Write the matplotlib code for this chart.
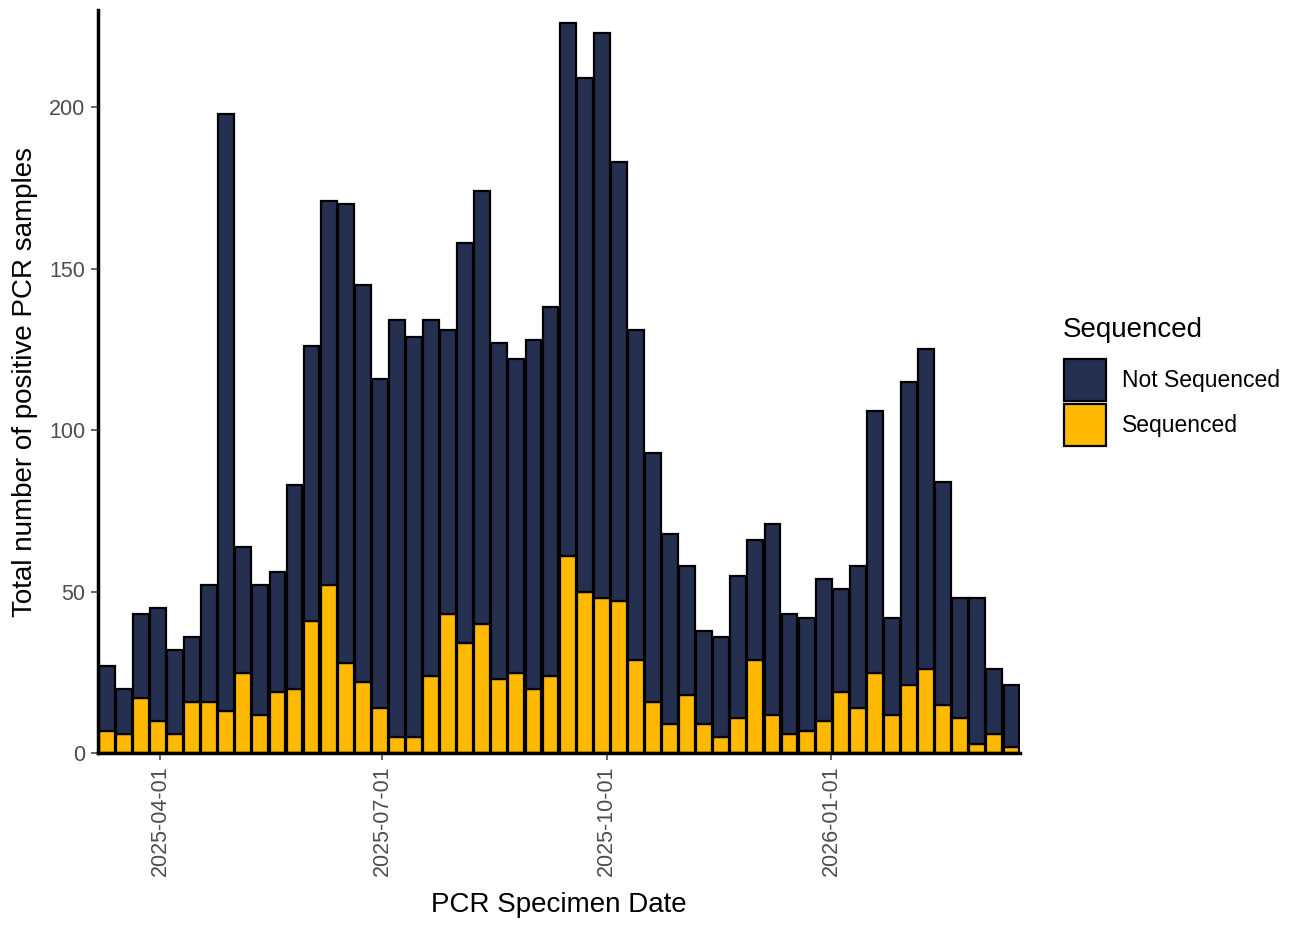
import matplotlib
matplotlib.use("Agg")
import matplotlib.pyplot as plt
import matplotlib.dates as mdates
import numpy as np
import pandas as pd
from matplotlib.patches import Rectangle

plt.rcParams['font.family'] = ['Liberation Sans', 'DejaVu Sans']

# weekly counts, week of 2025-03-10 onwards
weeks = pd.date_range("2025-03-10", periods=54, freq="7D")
total = [27, 20, 43, 45, 32, 36, 52, 198, 64, 52, 56, 83, 126, 171, 170, 145, 116, 134,
         129, 134, 131, 158, 174, 127, 122, 128, 138, 226, 209, 223, 183, 131, 93, 68,
         58, 38, 36, 55, 66, 71, 43, 42, 54, 51, 58, 106, 42, 115, 125, 84, 48, 48, 26, 21]
sequenced = [7, 6, 17, 10, 6, 16, 16, 13, 25, 12, 19, 20, 41, 52, 28, 22, 14, 5,
             5, 24, 43, 34, 40, 23, 25, 20, 24, 61, 50, 48, 47, 29, 16, 9,
             18, 9, 5, 11, 29, 12, 6, 7, 10, 19, 14, 25, 12, 21, 26, 15, 11, 3, 6, 2]
not_seq = [t - s for t, s in zip(total, sequenced)]

legend_labels = ["Not Sequenced", "Sequenced"]
navy = "#252F50"
gold = "#FFB900"

fig = plt.figure(figsize=(12.99, 9.3), dpi=100)
ax = fig.add_axes([0.0754, 0.19, 0.71, 0.799])

w = 6.5
ax.bar(weeks, sequenced, width=w, color=gold, edgecolor="black", linewidth=1.6)
ax.bar(weeks, not_seq, bottom=sequenced, width=w, color=navy, edgecolor="black", linewidth=1.6)

ax.set_xlim(weeks[0] - pd.Timedelta(days=3.6), weeks[-1] + pd.Timedelta(days=3.6))
ax.set_ylim(0, 230)
ax.set_yticks([0, 50, 100, 150, 200])

ax.xaxis.set_major_locator(mdates.MonthLocator(bymonth=[1, 4, 7, 10]))
ax.xaxis.set_major_formatter(mdates.DateFormatter("%Y-%m-%d"))
plt.setp(ax.get_xticklabels(), rotation=90, ha="center", va="top")

for s in ["top", "right"]:
    ax.spines[s].set_visible(False)
for s in ["left", "bottom"]:
    ax.spines[s].set_linewidth(2.5)
ax.tick_params(axis="both", colors="#4D4D4D", labelsize=15.5, length=5, width=1.2, pad=4)

ax.set_xlabel("PCR Specimen Date", fontsize=20, labelpad=11)
ax.set_ylabel("Total number of positive PCR samples", fontsize=20, labelpad=8)

# legend drawn by hand
fig.text(1063 / 1299, 1 - 330 / 930, "Sequenced", fontsize=20, ha="left", va="center")
colors = [navy, gold]
for i, (lab, c) in enumerate(zip(legend_labels, colors)):
    top = 359 + i * 45
    fig.patches.append(Rectangle((1064 / 1299, 1 - (top + 42) / 930), 42 / 1299, 42 / 930,
                                 transform=fig.transFigure, facecolor=c,
                                 edgecolor="black", linewidth=1.6))
    fig.text(1122 / 1299, 1 - (top + 21) / 930, lab, fontsize=16.5, ha="left", va="center")

fig.savefig("out.png", dpi=100)
